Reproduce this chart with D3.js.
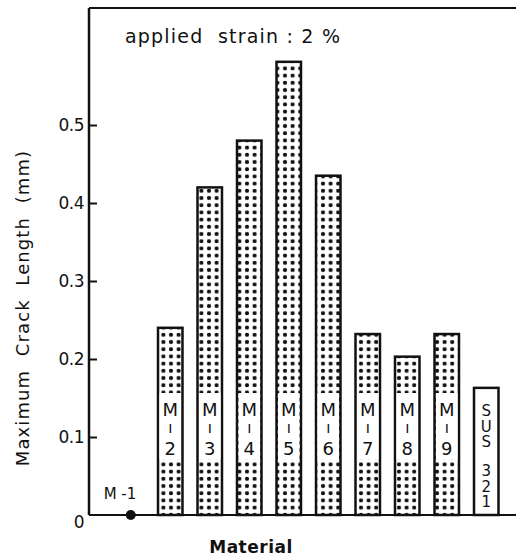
<!DOCTYPE html>
<html><head><meta charset="utf-8">
<script src="https://cdn.jsdelivr.net/npm/d3@7"></script>
<style>body{margin:0;background:#fff}svg{display:block}text{font-family:"DejaVu Sans",sans-serif;fill:#111}
.vert{writing-mode:vertical-rl;text-orientation:upright}</style>
</head><body><svg id="c" width="516" height="557"></svg>
<script>
const categories = ["M-1","M-2","M-3","M-4","M-5","M-6","M-7","M-8","M-9","SUS 321"];
const barLabels = [["M","-","1"],["M","ı","2"],["M","ı","3"],["M","ı","4"],["M","ı","5"],["M","ı","6"],["M","ı","7"],["M","ı","8"],["M","ı","9"],["SUS","321"]];
const values = [0, 0.24, 0.42, 0.48, 0.581, 0.435, 0.232, 0.203, 0.232, 0.163];
const dotted = [false,true,true,true,true,true,true,true,true,false];
const yTicks = [0,0.1,0.2,0.3,0.4,0.5];
const yTickLabels = ["0","0.1","0.2","0.3","0.4","0.5"];

const svg = d3.select("#c");
const x = d3.scaleBand().domain(categories).range([111,506]).paddingInner(0.38).paddingOuter(0.19);
const y = d3.scaleLinear().domain([0,0.65]).range([515,8]);

const defs = svg.append("defs");
const pat = defs.append("pattern").attr("id","dots").attr("patternUnits","userSpaceOnUse")
  .attr("width",7.6).attr("height",7.2).attr("x",0).attr("y",0);
pat.append("circle").attr("cx",3.8).attr("cy",3.6).attr("r",2.1).attr("fill","#111");

// frame: top line + left axis + baseline
svg.append("line").attr("x1",89).attr("x2",516).attr("y1",y(0.65)).attr("y2",y(0.65)).attr("stroke","#111").attr("stroke-width",2);
svg.append("line").attr("x1",89).attr("x2",89).attr("y1",y(0.65)).attr("y2",y(0)).attr("stroke","#111").attr("stroke-width",2.5);
svg.append("line").attr("x1",89).attr("x2",516).attr("y1",y(0)).attr("y2",y(0)).attr("stroke","#111").attr("stroke-width",2);

// y ticks (inward)
const yAxis = d3.axisRight(y).tickValues(yTicks.slice(1)).tickSize(8).tickFormat("");
const ga = svg.append("g").attr("transform","translate(89,0)").call(yAxis);
ga.select(".domain").remove();
ga.selectAll(".tick line").attr("stroke","#111").attr("stroke-width",2);
svg.selectAll(".ylab").data(yTicks).enter().append("text")
  .attr("x",84).attr("y",d=>y(d)+ (d===0?13:6)).attr("text-anchor","end")
  .attr("font-size",17).attr("letter-spacing",-0.5).text((d,i)=>yTickLabels[i]);

// bars
const bars = categories.map((c,i)=>({c,v:values[i],dot:dotted[i],lab:barLabels[i]})).filter(d=>d.v>0);
const bw = x.bandwidth();
svg.selectAll(".bar").data(bars).enter().append("rect")
  .attr("x",d=>x(d.c)).attr("y",d=>y(d.v)).attr("width",bw).attr("height",d=>y(0)-y(d.v))
  .attr("fill",d=>d.dot?"url(#dots)":"#fff").attr("stroke","#111").attr("stroke-width",2.5);

// label gaps in bars
const gapTop = 393, gapBot = 459;
svg.selectAll(".gap").data(bars.filter(d=>d.dot)).enter().append("rect")
  .attr("x",d=>x(d.c)+1.5).attr("y",gapTop).attr("width",bw-3).attr("height",gapBot-gapTop).attr("fill","#fff");

bars.forEach(d=>{
  const cx = x(d.c)+bw/2;
  if(d.dot){
    const ys=[416,433,455];
    d.lab.forEach((t,j)=>{
      svg.append("text").attr("x",cx).attr("y",ys[j]).attr("text-anchor","middle")
        .attr("font-size",j===1?15:18).text(t);
    });
  } else {
    const ys=[402,462];
    d.lab.forEach((t,j)=>{
      svg.append("text").attr("class","vert").attr("x",cx).attr("y",ys[j])
        .attr("font-size",15).attr("letter-spacing",-2.5).text(t);
    });
  }
});

// M-1 dot and label
svg.append("circle").attr("cx",x("M-1")+bw/2).attr("cy",y(0)).attr("r",5).attr("fill","#111");
svg.append("text").attr("x",120).attr("y",499).attr("text-anchor","middle").attr("font-size",15).attr("xml:space","preserve").text("M -1");

// title & axis labels
svg.append("text").attr("x",125).attr("y",43).attr("font-size",19).attr("letter-spacing",1.2).attr("xml:space","preserve").text("applied  strain : 2 %");
svg.append("text").attr("transform","translate(29,308) rotate(-90)").attr("text-anchor","middle").attr("font-size",18).attr("letter-spacing",1.1).attr("xml:space","preserve").text("Maximum  Crack  Length  (mm)");
svg.append("text").attr("x",251).attr("y",553).attr("text-anchor","middle").attr("font-size",17).attr("font-weight","bold").attr("letter-spacing",0.5).text("Material");
</script></body></html>
